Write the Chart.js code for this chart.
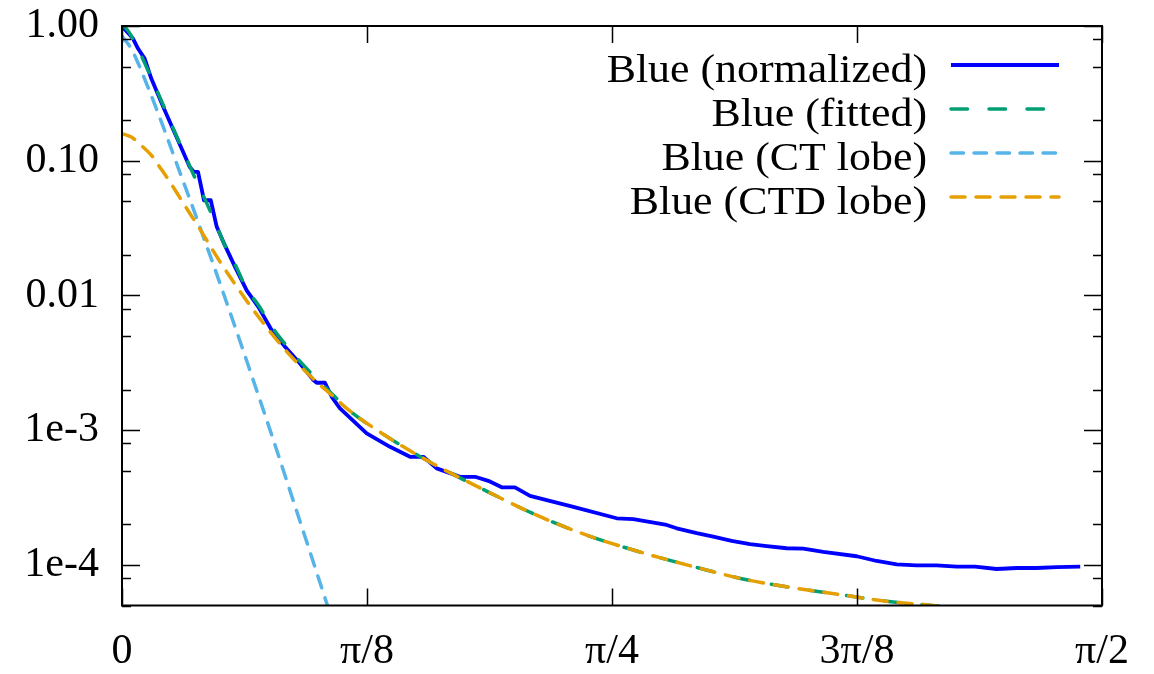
<!DOCTYPE html>
<html>
<head>
<meta charset="utf-8">
<script src="https://cdn.jsdelivr.net/npm/chart.js@4"></script>
<style>
  html, body { margin: 0; padding: 0; background: #fff; }
</style>
</head>
<body>
<canvas id="myChart" width="1154" height="674"></canvas>
<script>
'use strict';

const normAngle = [0, 1.01, 1.47, 2.08, 2.69, 3.92, 5.14, 6.22, 6.61, 6.98, 7.53, 8.15, 8.70, 9.30, 10.38, 11.45, 12.52, 13.75, 14.97, 16.35, 17.57, 17.88, 18.64, 19.26, 20.02, 22.47, 24.61, 26.45, 27.67, 28.90, 31.04, 32.42, 33.64, 34.87, 36.09, 37.47, 41.45, 45.43, 46.96, 50.02, 50.94, 52.78, 54.30, 55.99, 57.67, 59.21, 61.04, 62.57, 64.41, 67.47, 69.31, 71.15, 72.98, 74.82, 76.66, 78.34, 80.33, 82.17, 84.0, 85.84, 88.0];
const normValue = [1.0, 0.807, 0.680, 0.573, 0.407, 0.237, 0.142, 0.090, 0.0826, 0.0826, 0.0509, 0.0509, 0.0323, 0.0250, 0.0163, 0.0109, 0.00823, 0.00552, 0.00416, 0.00313, 0.00236, 0.00225, 0.00225, 0.00177, 0.00145, 9.47e-4, 7.53e-4, 6.35e-4, 6.35e-4, 5.21e-4, 4.51e-4, 4.51e-4, 4.21e-4, 3.77e-4, 3.77e-4, 3.26e-4, 2.70e-4, 2.22e-4, 2.19e-4, 1.98e-4, 1.87e-4, 1.72e-4, 1.62e-4, 1.51e-4, 1.43e-4, 1.38e-4, 1.33e-4, 1.32e-4, 1.25e-4, 1.16e-4, 1.07e-4, 1.01e-4, 9.93e-5, 9.93e-5, 9.70e-5, 9.70e-5, 9.33e-5, 9.49e-5, 9.49e-5, 9.64e-5, 9.70e-5];

const fitAngle = [0, 0.39, 1.01, 2.39, 3.0, 4.07, 4.84, 5.76, 6.52, 7.53, 8.51, 9.46, 10.38, 11.45, 12.52, 13.75, 14.97, 16.35, 17.88, 19.41, 20.64, 24.0, 28.59, 33.18, 37.77, 42.36, 46.96, 53.08, 57.37, 61.65, 65.94, 70.22, 74.36, 76.0];
const fitValue = [1.0, 0.955, 0.804, 0.468, 0.363, 0.229, 0.164, 0.111, 0.0804, 0.0537, 0.0355, 0.0234, 0.0170, 0.0112, 0.00851, 0.00589, 0.00437, 0.00324, 0.00240, 0.00182, 0.00145, 9.33e-4, 5.62e-4, 3.63e-4, 2.40e-4, 1.70e-4, 1.29e-4, 9.44e-5, 7.76e-5, 6.76e-5, 6.03e-5, 5.37e-5, 5.01e-5, 4.85e-5];

const ctAngle = [0, 0.854, 1.31, 2.54, 3.77, 4.68, 5.45, 6.52, 7.32, 8.54, 9.30, 10.07, 10.84, 12.06, 13.13, 13.89, 16.0, 18.18, 19.5];
const ctValue = [0.839, 0.679, 0.569, 0.327, 0.180, 0.1135, 0.0767, 0.0447, 0.0295, 0.01567, 0.01047, 0.00692, 0.00457, 0.00234, 0.0013, 8.51e-4, 2.57e-4, 7.41e-5, 3.47e-5];

const ctdAngle = [0, 0.85, 1.77, 2.69, 3.46, 4.22, 4.99, 6.06, 6.86, 7.78, 8.85, 10.07, 11.45, 12.83, 14.21, 15.73, 17.57, 19.41, 20.64, 24.0, 28.59, 33.18, 37.77, 42.36, 46.96, 53.08, 57.37, 61.65, 65.94, 70.22, 74.36, 76.0];
const ctdValue = [0.159, 0.150, 0.130, 0.110, 0.0899, 0.0733, 0.0586, 0.0427, 0.0339, 0.0257, 0.0186, 0.0132, 0.00912, 0.00646, 0.00468, 0.00339, 0.00240, 0.00178, 0.00145, 9.33e-4, 5.62e-4, 3.63e-4, 2.40e-4, 1.70e-4, 1.29e-4, 9.44e-5, 7.76e-5, 6.76e-5, 6.03e-5, 5.37e-5, 5.01e-5, 4.85e-5];

const xTickValues = [0, Math.PI / 8, Math.PI / 4, 3 * Math.PI / 8, Math.PI / 2];
const xTickLabels = ['0', 'π/8', 'π/4', '3π/8', 'π/2'];
const yTickValues = [1, 0.1, 0.01, 1e-3, 1e-4];
const yTickLabels = ['1.00', '0.10', '0.01', '1e-3', '1e-4'];
const yMinorSteps = [2, 5, 8];

const FONT = 'Liberation Serif';
Chart.defaults.font.family = FONT;
Chart.defaults.font.size = 42;
Chart.defaults.color = '#000';

function toPoints(angles, values) {
    var pts = [];
    for (var i = 0; i < angles.length; ++i) {
        pts.push({ x: angles[i] * Math.PI / 180, y: values[i] });
    }
    return pts;
}

// gnuplot style frame with inward ticks on all four sides
const frame = {
    id: 'frame',
    afterDatasetsDraw(chart) {
        const { ctx, chartArea: a, scales: { x, y } } = chart;
        ctx.save();
        ctx.strokeStyle = '#000';
        ctx.lineWidth = 1.5;
        ctx.beginPath();
        xTickValues.forEach(v => {
            const px = Math.round(x.getPixelForValue(v)) + 0.5;
            ctx.moveTo(px, a.top); ctx.lineTo(px, a.top + 17);
            ctx.moveTo(px, a.bottom); ctx.lineTo(px, a.bottom - 17);
        });
        yTickValues.forEach(v => {
            const py = Math.round(y.getPixelForValue(v)) + 0.5;
            ctx.moveTo(a.left, py); ctx.lineTo(a.left + 18, py);
            ctx.moveTo(a.right, py); ctx.lineTo(a.right - 18, py);
        });
        for (var e = -5; e < 0; ++e) {
            yMinorSteps.forEach(m => {
                const v = m * Math.pow(10, e);
                if (v < y.min || v > y.max) return;
                const py = Math.round(y.getPixelForValue(v)) + 0.5;
                ctx.moveTo(a.left, py); ctx.lineTo(a.left + 9, py);
                ctx.moveTo(a.right, py); ctx.lineTo(a.right - 9, py);
            });
        }
        ctx.stroke();
        ctx.lineWidth = 2;
        ctx.strokeRect(a.left, a.top, a.right - a.left, a.bottom - a.top);
        ctx.restore();
    }
};

// key in the top right: text right aligned, sample line after it
const key = {
    id: 'key',
    afterDraw(chart) {
        const ctx = chart.ctx;
        ctx.save();
        ctx.font = '41px "' + FONT + '"';
        ctx.fillStyle = '#000';
        chart.data.datasets.forEach((ds, i) => {
            const ly = 65 + i * 44;
            // the reference lettering is a little wider than tall
            ctx.save();
            ctx.translate(927, ly + 16.5);
            ctx.scale(1.07, 1);
            ctx.textAlign = 'right';
            ctx.textBaseline = 'alphabetic';
            ctx.fillText(ds.label, 0, 0);
            ctx.restore();
            ctx.strokeStyle = ds.borderColor;
            ctx.lineWidth = ds.borderWidth;
            ctx.lineCap = ds.borderCapStyle || 'butt';
            ctx.setLineDash(ds.borderDash || []);
            ctx.beginPath();
            ctx.moveTo(951, ly);
            ctx.lineTo(1059, ly);
            ctx.stroke();
        });
        ctx.restore();
    }
};

const ctx = document.getElementById('myChart').getContext('2d');

const myChart = new Chart(ctx, {
    type: 'scatter',
    data: {
        datasets: [{
            label: 'Blue (normalized)',
            data: toPoints(normAngle, normValue),
            borderColor: '#0000ff',
            borderWidth: 3.8,
            showLine: true,
            pointRadius: 0,
            borderJoinStyle: 'round',
            order: 4
        }, {
            label: 'Blue (fitted)',
            data: toPoints(fitAngle, fitValue),
            borderColor: '#009e73',
            borderWidth: 3.5,
            borderDash: [16.5, 21.5],
            borderCapStyle: 'round',
            showLine: true,
            pointRadius: 0,
            cubicInterpolationMode: 'monotone',
            order: 3
        }, {
            label: 'Blue (CT lobe)',
            data: toPoints(ctAngle, ctValue),
            borderColor: '#56b4e9',
            borderWidth: 3.5,
            borderDash: [12.5, 10.5],
            borderCapStyle: 'round',
            showLine: true,
            pointRadius: 0,
            cubicInterpolationMode: 'monotone',
            order: 2
        }, {
            label: 'Blue (CTD lobe)',
            data: toPoints(ctdAngle, ctdValue),
            borderColor: '#e69f00',
            borderWidth: 3.5,
            borderDash: [14, 11],
            borderCapStyle: 'round',
            showLine: true,
            pointRadius: 0,
            cubicInterpolationMode: 'monotone',
            order: 1
        }]
    },
    plugins: [frame, key],
    options: {
        responsive: false,
        animation: false,
        layout: {
            padding: { top: 26, right: 52, bottom: 0, left: 0 }
        },
        plugins: {
            legend: { display: false },
            tooltip: { enabled: false }
        },
        scales: {
            x: {
                type: 'linear',
                position: 'bottom',
                min: 0,
                max: Math.PI / 2,
                afterBuildTicks: (scale) => {
                    scale.ticks = xTickValues.map(v => ({ value: v }));
                },
                afterFit: (scale) => {
                    scale.height = 68.5;
                    scale.paddingLeft = 0;
                    scale.paddingRight = 0;
                },
                grid: { display: false, drawTicks: false },
                border: { display: false },
                ticks: {
                    autoSkip: false,
                    maxRotation: 0,
                    padding: 21,
                    callback: (val, index) => xTickLabels[index]
                }
            },
            y: {
                type: 'logarithmic',
                position: 'left',
                min: 5e-5,
                max: 1,
                afterBuildTicks: (scale) => {
                    scale.ticks = yTickValues.map(v => ({ value: v }));
                },
                afterFit: (scale) => {
                    scale.width = 122;
                    scale.paddingTop = 0;
                    scale.paddingBottom = 0;
                },
                grid: { display: false, drawTicks: false },
                border: { display: false },
                ticks: {
                    autoSkip: false,
                    padding: 23,
                    callback: (val, index) => yTickLabels[index]
                }
            }
        }
    }
});
</script>
</body>
</html>
